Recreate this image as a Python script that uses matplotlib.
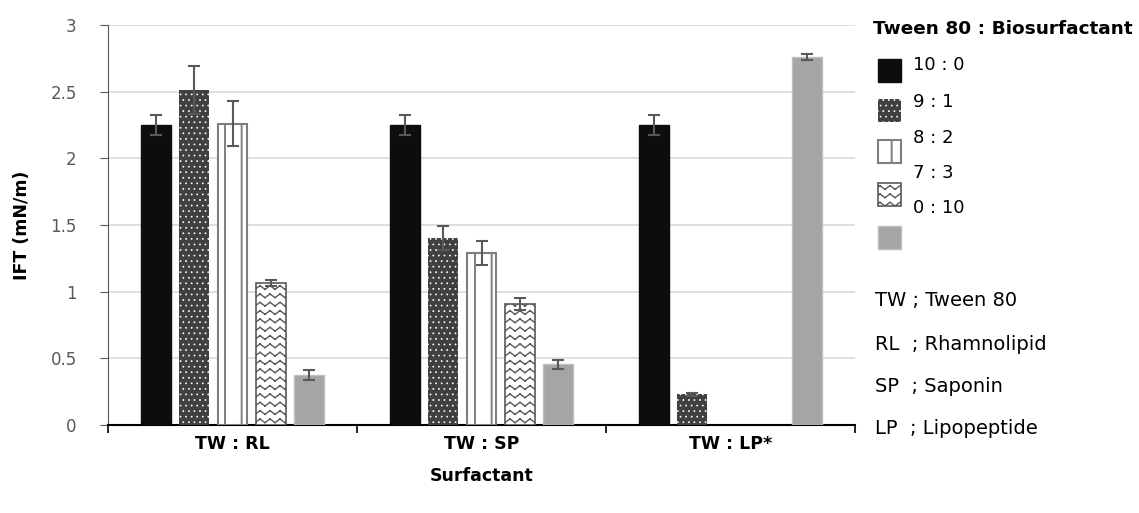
import warnings
import numpy as np
import matplotlib
matplotlib.use('Agg')
import matplotlib.pyplot as plt
import matplotlib.hatch as mhatch
from matplotlib.path import Path
from matplotlib.patches import Rectangle

warnings.filterwarnings('ignore')

groups = ['TW : RL', 'TW : SP', 'TW : LP*']
ratios = ['10 : 0', '9 : 1', '8 : 2', '7 : 3', '0 : 10']
# IFT values per ratio, one entry per group (nan = not measured)
ift_10_0 = [2.25, 2.25, 2.25]
ift_9_1 = [2.51, 1.40, 0.23]
ift_8_2 = [2.26, 1.29, np.nan]
ift_7_3 = [1.065, 0.91, np.nan]
ift_0_10 = [0.375, 0.455, 2.76]
err_10_0 = [0.075, 0.075, 0.075]
err_9_1 = [0.18, 0.09, 0.01]
err_8_2 = [0.17, 0.09, np.nan]
err_7_3 = [0.02, 0.045, np.nan]
err_0_10 = [0.035, 0.035, 0.02]
notes = ['TW ; Tween 80', 'RL  ; Rhamnolipid', 'SP  ; Saponin', 'LP  ; Lipopeptide']


# zigzag hatch for the 7:3 bars (separate segments so nothing gets filled)
class ZigzagHatch(mhatch.HatchPatternBase):
    def __init__(self, hatch, density):
        self.num_rows = hatch.count('~') * density
        self.num_teeth = 10
        self.num_vertices = self.num_rows * self.num_teeth * 4

    def set_vertices_and_codes(self, vertices, codes):
        nseg = 2 * self.num_teeth
        xs = np.linspace(0, 1, nseg + 1)
        amp = 0.22 / max(self.num_rows, 1)
        k = 0
        for r in range(self.num_rows):
            y0 = (r + 0.5) / self.num_rows
            ys = y0 + np.where(np.arange(nseg + 1) % 2 == 0, amp, -amp)
            for s in range(nseg):
                vertices[k] = (xs[s], ys[s])
                vertices[k + 1] = (xs[s + 1], ys[s + 1])
                codes[k] = Path.MOVETO
                codes[k + 1] = Path.LINETO
                k += 2


mhatch._hatch_types.append(ZigzagHatch)

plt.rcParams['font.family'] = ['DejaVu Sans']
plt.rcParams['hatch.linewidth'] = 1.0

values = [ift_10_0, ift_9_1, ift_8_2, ift_7_3, ift_0_10]
errors = [err_10_0, err_9_1, err_8_2, err_7_3, err_0_10]
styles = [
    dict(facecolor='#0d0d0d', edgecolor='#0d0d0d', hatch=None, linewidth=1),
    dict(facecolor='#404040', edgecolor='white', hatch='...', linewidth=0),
    dict(facecolor='white', edgecolor='#7f7f7f', hatch='|', linewidth=1.5),
    dict(facecolor='white', edgecolor='#595959', hatch='~~', linewidth=1.2),
    dict(facecolor='#a5a5a5', edgecolor='#bfbfbf', hatch=None, linewidth=1),
]
hatch_lw = [1.0, 0.5, 1.4, 1.0, 1.0]

W, H = 1139, 513
fig = plt.figure(figsize=(W / 100, H / 100), dpi=100)
ax = fig.add_axes([108 / W, 1 - 425 / H, (855 - 108) / W, 400 / H])

x = np.arange(len(groups))
width = 0.12
step = 0.153
for i in range(len(ratios)):
    pos = x + (i - 2) * step
    bars = ax.bar(pos, values[i], width, zorder=3, **styles[i])
    for b in bars:
        if hasattr(b, 'set_hatch_linewidth'):
            b.set_hatch_linewidth(hatch_lw[i])
    ax.errorbar(pos, values[i], yerr=errors[i], fmt='none', ecolor='#595959',
                elinewidth=1.5, capsize=4, capthick=1.5, zorder=4)

ax.set_xlim(-0.5, 2.5)
ax.set_ylim(0, 3)
ax.set_yticks(np.arange(0, 3.01, 0.5))
ax.set_yticklabels(['0', '0.5', '1', '1.5', '2', '2.5', '3'])
ax.yaxis.grid(True, color='#d9d9d9', linewidth=1.2, zorder=0)
ax.set_axisbelow(True)
ax.set_xticks([-0.5, 0.5, 1.5, 2.5])
ax.set_xticklabels([])
ax.set_xticks(x, minor=True)
ax.set_xticklabels(groups, minor=True, fontweight='bold', fontsize=12.5)
ax.tick_params(axis='x', which='minor', length=0, pad=7)
ax.tick_params(axis='x', which='major', length=6, width=1.2, color='black')
ax.tick_params(axis='y', length=6, color='#595959', labelcolor='#595959',
               labelsize=12, pad=16.5)
ax.spines['top'].set_visible(False)
ax.spines['right'].set_visible(False)
ax.spines['left'].set_color('#595959')
ax.spines['bottom'].set_color('black')
ax.spines['bottom'].set_linewidth(1.5)
ax.set_xlabel('Surfactant', fontweight='bold', fontsize=12.5, labelpad=10)
ax.set_ylabel('IFT (mN/m)', fontweight='bold', fontsize=12.5, labelpad=14)


def fx(px):
    return px / W


def fy(py):
    return 1 - py / H


fig.text(fx(873), fy(29), 'Tween 80 : Biosurfactant', fontweight='bold',
         fontsize=13.3, va='center', ha='left')
patch_tops = [59, 99, 140, 183, 226]
label_ys = [65, 102, 138, 173, 208]
for i, r in enumerate(ratios):
    p = Rectangle((fx(878), fy(patch_tops[i] + 23)), fx(23), 23 / H,
                  transform=fig.transFigure, **styles[i])
    if hasattr(p, 'set_hatch_linewidth'):
        p.set_hatch_linewidth(hatch_lw[i])
    fig.add_artist(p)
    fig.text(fx(913), fy(label_ys[i]), r, fontsize=13, va='center', ha='left')

note_ys = [301, 344, 386, 428]
for n, yy in zip(notes, note_ys):
    fig.text(fx(875), fy(yy), n, fontsize=14, va='center', ha='left')

fig.savefig('out.png', dpi=100)
